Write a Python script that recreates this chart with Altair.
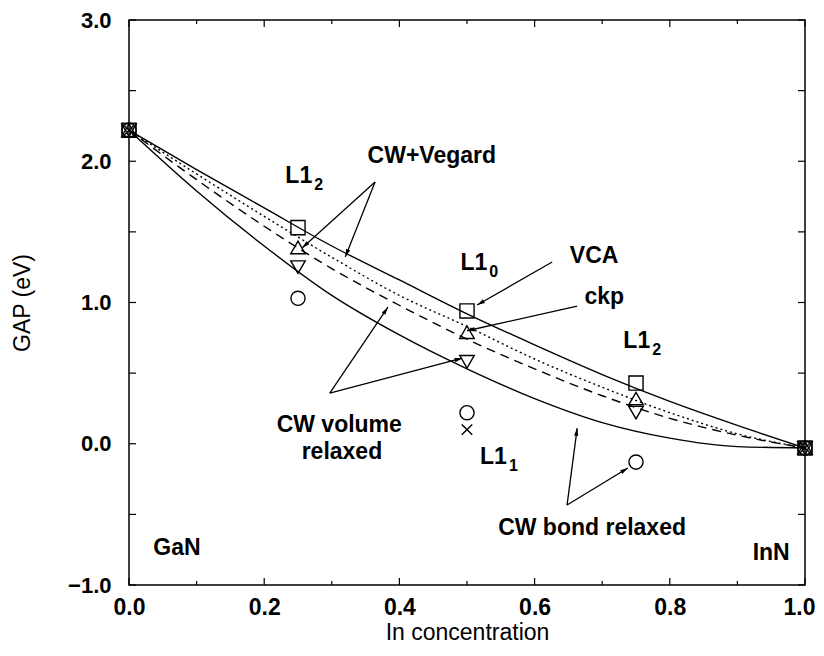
import math
import altair as alt
import pandas as pd

W, H = 676, 565

# ---- data ----
curve_x = [0.0, 0.1, 0.2, 0.3, 0.4, 0.5, 0.6, 0.7, 0.8, 0.9, 1.0]
cw_vegard = [2.22, 1.94, 1.67, 1.40, 1.16, 0.92, 0.70, 0.49, 0.30, 0.13, -0.03]
vca_line = [2.22, 1.91, 1.61, 1.32, 1.05, 0.83, 0.60, 0.40, 0.22, 0.07, -0.03]
cw_volume = [2.22, 1.87, 1.54, 1.24, 0.98, 0.74, 0.53, 0.34, 0.18, 0.06, -0.03]
cw_bond = [2.22, 1.79, 1.40, 1.05, 0.77, 0.53, 0.32, 0.15, 0.04, -0.02, -0.03]

pts_x = [0.0, 0.25, 0.5, 0.75, 1.0]
squares = [2.22, 1.53, 0.94, 0.43, -0.03]
tri_up = [2.22, 1.39, 0.79, 0.32, -0.03]
tri_down = [2.22, 1.25, 0.58, 0.22, -0.03]
circles = [2.22, 1.03, 0.22, -0.13, -0.03]
cross_x = [0.0, 0.5, 1.0]
cross_y = [2.22, 0.10, -0.03]

x_labels = [0.0, 0.2, 0.4, 0.6, 0.8, 1.0]
x_minor = [0.1, 0.3, 0.5, 0.7, 0.9]
y_labels = [-1.0, 0.0, 1.0, 2.0, 3.0]
y_ticks = [-1.0, -0.5, 0.0, 0.5, 1.0, 1.5, 2.0, 2.5, 3.0]

# annotation texts
ann_text = ["CW+Vegard", "VCA", "ckp", "CW volume", "relaxed", "CW bond relaxed", "GaN", "InN"]
ann_x = [0.448, 0.688, 0.703, 0.311, 0.315, 0.685, 0.071, 0.950]
ann_y = [2.036, 1.327, 1.040, 0.133, -0.058, -0.596, -0.737, -0.773]

# "L1" labels with subscripts
l1_x = [0.271, 0.530, 0.771, 0.559]
l1_y = [1.894, 1.278, 0.727, -0.093]
l1_sub = ["2", "0", "2", "1"]

# arrows (from -> to)
arr_x1 = [0.364, 0.364, 0.626, 0.663, 0.297, 0.297, 0.648, 0.648]
arr_y1 = [1.853, 1.853, 1.287, 0.974, 0.358, 0.358, -0.434, -0.434]
arr_x2 = [0.256, 0.320, 0.515, 0.500, 0.383, 0.493, 0.663, 0.738]
arr_y2 = [1.386, 1.323, 0.982, 0.800, 0.967, 0.606, 0.111, -0.172]

FONT = "Liberation Sans"
XS = alt.Scale(domain=[0, 1], nice=False, zero=False)
YS = alt.Scale(domain=[-1, 3], nice=False, zero=False)

x_axis = alt.Axis(values=x_labels, format=".1f", ticks=False, domain=False, grid=False,
                  labelFontSize=23, labelFontWeight="bold", labelPadding=11, labelFont=FONT,
                  labelFlush=False,
                  labelOffset={"condition": {"test": "datum.value >= 1", "value": -6}, "value": 0},
                  labelColor="black", title="In concentration", titleFont=FONT,
                  titleFontSize=23, titleFontWeight="normal", titleColor="black", titlePadding=2)
y_axis = alt.Axis(values=y_labels, format=".1f", ticks=False, domain=False, grid=False,
                  labelFontSize=22, labelFontWeight="bold", labelPadding=18, labelFont=FONT,
                  labelFlush=False, labelColor="black", title="GAP (eV)", titleFont=FONT,
                  titleFontSize=23, titleFontWeight="normal", titleColor="black", titlePadding=33)


def X(f="x"):
    return alt.X(f"{f}:Q", scale=XS, axis=x_axis)


def Y(f="y"):
    return alt.Y(f"{f}:Q", scale=YS, axis=y_axis)


curves = pd.DataFrame({
    "x": curve_x * 4,
    "y": cw_vegard + vca_line + cw_volume + cw_bond,
    "s": ["vegard"] * 11 + ["vca"] * 11 + ["vol"] * 11 + ["bond"] * 11,
})


def curve(name, dash):
    d = curves[curves.s == name]
    kw = {}
    if dash:
        kw["strokeDash"] = dash
    return alt.Chart(d).mark_line(color="black", strokeWidth=1.4, interpolate="monotone", **kw).encode(
        x=X(), y=Y())


layers = [
    curve("vegard", None),
    curve("vca", [2, 3]),
    curve("vol", [9, 6]),
    curve("bond", None),
]


def marker(xs, ys, shape, size):
    d = pd.DataFrame({"x": xs, "y": ys})
    return alt.Chart(d).mark_point(shape=shape, size=size, filled=False, color="black",
                                   strokeWidth=1.4, opacity=1).encode(x=X(), y=Y())


layers += [
    marker(pts_x, squares, "square", 200),
    marker(pts_x, tri_up, "triangle-up", 210),
    marker(pts_x, tri_down, "triangle-down", 210),
    marker(pts_x, circles, "circle", 200),
    marker(cross_x, cross_y, "M-1,-1L1,1M-1,1L1,-1", 110),
]

# arrows
ang = []
for a, b, c, e in zip(arr_x1, arr_y1, arr_x2, arr_y2):
    dx = (c - a) * W
    dy = -(e - b) * H / 4.0
    ang.append(math.degrees(math.atan2(dx, -dy)) % 360)
arrows = pd.DataFrame({"x": arr_x1, "y": arr_y1, "x2": arr_x2, "y2": arr_y2, "ang": ang})
layers.append(alt.Chart(arrows).mark_rule(color="black", strokeWidth=1.3).encode(
    x=X(), y=Y(), x2="x2:Q", y2="y2:Q"))
layers.append(alt.Chart(arrows).mark_point(shape="M0,0L-0.3,1.1L0.3,1.1Z", size=200, filled=True,
                                           color="black", opacity=1).encode(
    x=X("x2"), y=Y("y2"), angle=alt.Angle("ang:Q", scale=None)))

# texts
ann = pd.DataFrame({"x": ann_x, "y": ann_y, "t": ann_text})
layers.append(alt.Chart(ann).mark_text(font=FONT, fontSize=23, fontWeight="bold", color="black",
                                       baseline="middle", align="center").encode(
    x=X(), y=Y(), text="t:N"))
l1 = pd.DataFrame({"x": l1_x, "y": l1_y, "t": ["L1"] * 4, "s": l1_sub})
layers.append(alt.Chart(l1).mark_text(font=FONT, fontSize=23, fontWeight="bold", color="black",
                                      baseline="middle", align="right").encode(
    x=X(), y=Y(), text="t:N"))
layers.append(alt.Chart(l1).mark_text(font=FONT, fontSize=16, fontWeight="bold", color="black",
                                      baseline="middle", align="left", dx=2, dy=9).encode(
    x=X(), y=Y(), text="s:N"))

# inward ticks
xt = pd.DataFrame({"x": x_labels})
xm = pd.DataFrame({"x": x_minor})
yt = pd.DataFrame({"y": y_ticks})
tick = dict(color="black", strokeWidth=1.2)
layers += [
    alt.Chart(xt).mark_rule(**tick).encode(x=X(), y=alt.value(H), y2=alt.value(H - 7)),
    alt.Chart(xt).mark_rule(**tick).encode(x=X(), y=alt.value(0), y2=alt.value(7)),
    alt.Chart(xm).mark_rule(**tick).encode(x=X(), y=alt.value(H), y2=alt.value(H - 4)),
    alt.Chart(xm).mark_rule(**tick).encode(x=X(), y=alt.value(0), y2=alt.value(4)),
    alt.Chart(yt).mark_rule(**tick).encode(y=Y(), x=alt.value(0), x2=alt.value(7)),
    alt.Chart(yt).mark_rule(**tick).encode(y=Y(), x=alt.value(W), x2=alt.value(W - 7)),
]

chart = alt.layer(*layers).properties(
    width=W, height=H,
    autosize=alt.AutoSizeParams(type="none"),
    padding={"left": 121, "top": 12, "right": 11, "bottom": 63},
    background="white",
).configure_view(stroke="black", strokeWidth=1.5)

chart.save("out.html", embed_options={"renderer": "svg", "actions": False})
